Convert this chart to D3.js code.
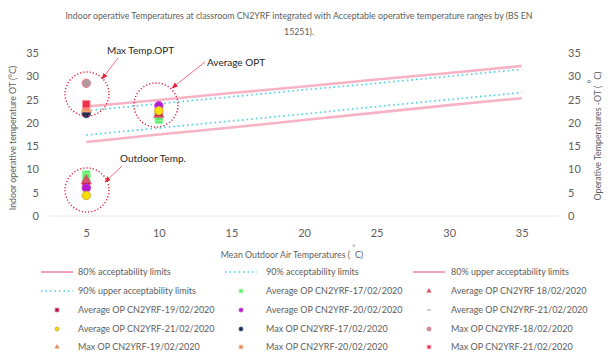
<!DOCTYPE html>
<html>
<head>
<meta charset="utf-8">
<script src="https://cdn.jsdelivr.net/npm/d3@7/dist/d3.min.js"></script>
<style>
  html, body { margin: 0; padding: 0; background: #fff; }
  svg { display: block; font-family: Lato, "Liberation Sans", sans-serif; }
</style>
</head>
<body>
<svg id="chart" width="614" height="354"></svg>
<script>
// Mean outdoor air temperature categories (°C)
const xCats = [5, 10, 15, 20, 25, 30, 35];
const yTicks = [0, 5, 10, 15, 20, 25, 30, 35];

// Acceptability limit lines at each category
const lower80 = [15.9, 17.5, 19.0, 20.6, 22.2, 23.8, 25.3];
const lower90 = [17.4, 18.9, 20.4, 21.9, 23.5, 25.0, 26.5];
const upper80 = [23.5, 24.9, 26.4, 27.8, 29.3, 30.7, 32.2];
const upper90 = [22.6, 24.1, 25.6, 27.1, 28.5, 30.0, 31.5];

// Measured points [x, y] per day
const avg1702 = [[10, 20.7], [10, 21.3], [5, 8.9], [5, 8.3]];
const avg1802 = [[10, 21.8], [5, 7.6]];
const avg1902 = [[10, 22.2], [5, 6.4]];
const avg2002 = [[10, 23.7], [5, 6.0]];
const avg2102a = [];
const avg2102b = [[10, 22.6], [5, 4.4]];
const max1702 = [[5, 22.0]];
const max1802 = [[5, 28.5]];
const max1902 = [[5, 22.9]];
const max2002 = [[5, 23.3]];
const max2102 = [[5, 24.0]];

const svg = d3.select("#chart");
const plotLeft = 50, plotRight = 558, plotTop = 53, plotBottom = 216;

const x = d3.scaleLinear().domain([2.5, 37.5]).range([plotLeft, plotRight]);
const y = d3.scaleLinear().domain([0, 35]).range([plotBottom, plotTop]);

const grey = "#5e5e5e";
const pink = "#f5a0b4";
const cyan = "#45cfe0";

// Title
const title = svg.append("text").attr("x", 299).attr("y", 19)
  .attr("text-anchor", "middle").attr("font-size", 8.8).attr("fill", grey);
title.append("tspan").attr("x", 299).text("Indoor operative Temperatures at classroom CN2YRF integrated with Acceptable operative temperature ranges by (BS EN");
title.append("tspan").attr("x", 299).attr("dy", 16).text("15251).");

// Baseline
svg.append("line").attr("x1", plotLeft).attr("x2", plotRight)
  .attr("y1", y(0)).attr("y2", y(0)).attr("stroke", "#e6e6e6").attr("stroke-width", 1);

// Axes (labels only)
const axL = d3.axisLeft(y).tickValues(yTicks).tickSize(0).tickPadding(0);
const gL = svg.append("g").attr("transform", `translate(${plotLeft - 11},0)`).call(axL);
const axR = d3.axisRight(y).tickValues(yTicks).tickSize(0).tickPadding(0);
const gR = svg.append("g").attr("transform", `translate(${plotRight + 10},0)`).call(axR);
const axB = d3.axisBottom(x).tickValues(xCats).tickSize(0).tickPadding(0);
const gB = svg.append("g").attr("transform", `translate(0,${plotBottom + 13})`).call(axB);
[gL, gR, gB].forEach(g => {
  g.select(".domain").remove();
  g.selectAll("text").attr("fill", grey).attr("font-size", 11)
    .attr("font-family", "Lato, 'Liberation Sans', sans-serif");
});

// Axis titles
svg.append("text").attr("transform", "translate(16,138) rotate(-90)")
  .attr("text-anchor", "middle").attr("font-size", 8.8).attr("fill", grey)
  .text("Indoor operative temperature OT (°C)");
const rt = svg.append("text").attr("transform", "translate(601,136) rotate(-90)")
  .attr("text-anchor", "middle").attr("font-size", 8.8).attr("fill", grey);
rt.append("tspan").text("Operative Temperatures -OT ( ");
rt.append("tspan").attr("dy", -6).text("°");
rt.append("tspan").attr("dy", 6).text("C)");
const xt = svg.append("text").attr("x", 292).attr("y", 258)
  .attr("text-anchor", "middle").attr("font-size", 8.8).attr("fill", grey);
xt.append("tspan").text("Mean Outdoor Air Temperatures ( ");
xt.append("tspan").attr("dy", -9).attr("font-size", 6).text("°");
xt.append("tspan").attr("dy", 9).text("C)");

// Limit lines
const lineGen = d3.line().x((d, i) => x(xCats[i])).y(d => y(d));
const limits = [
  { data: lower80, color: pink, width: 2.6, dash: null },
  { data: upper80, color: pink, width: 2.6, dash: null },
  { data: lower90, color: cyan, width: 1.8, dash: "1.6,3" },
  { data: upper90, color: cyan, width: 1.8, dash: "1.6,3" }
];
limits.forEach(l => {
  svg.append("path").datum(l.data).attr("d", lineGen)
    .attr("fill", "none").attr("stroke", l.color).attr("stroke-width", l.width)
    .attr("stroke-opacity", l.dash ? 0.9 : 0.8)
    .attr("stroke-dasharray", l.dash);
});

// Marker drawing
function marker(g, shape, size, fill, stroke) {
  if (shape === "dash") {
    g.append("line").attr("x1", -2).attr("x2", 2).attr("stroke", fill).attr("stroke-width", 1);
    return;
  }
  let sym;
  if (shape === "square") sym = d3.symbolSquare;
  else if (shape === "triangle") sym = d3.symbolTriangle;
  else sym = d3.symbolCircle;
  g.append("path").attr("d", d3.symbol().type(sym).size(size)())
    .attr("fill", fill).attr("stroke", stroke || "none").attr("stroke-width", 1);
}

const pointSeries = [
  { name: "Average OP CN2YRF-17/02/2020", data: avg1702, shape: "square", fill: "#5cef6a", stroke: "#8ff59a" },
  { name: "Average OP CN2YRF 18/02/2020", data: avg1802, shape: "triangle", fill: "#d9536a", stroke: null },
  { name: "Average OP CN2YRF-19/02/2020", data: avg1902, shape: "square", fill: "#b0103a", stroke: "#e05070" },
  { name: "Average OP CN2YRF-20/02/2020", data: avg2002, shape: "circle", fill: "#b01cd0", stroke: "#d040e0" },
  { name: "Average OP CN2YRF-21/02/2020", data: avg2102a, shape: "dash", fill: "#a0a0a0", stroke: null },
  { name: "Average OP CN2YRF-21/02/2020", data: avg2102b, shape: "circle", fill: "#f5e000", stroke: "#d8b030" },
  { name: "Max OP CN2YRF-17/02/2020", data: max1702, shape: "circle", fill: "#1f2d5a", stroke: "#3a4a7a" },
  { name: "Max OP CN2YRF-18/02/2020", data: max1802, shape: "circle", fill: "#b09aa0", stroke: "#e57a90" },
  { name: "Max OP CN2YRF-19/02/2020", data: max1902, shape: "triangle", fill: "#e8905a", stroke: null },
  { name: "Max OP CN2YRF-20/02/2020", data: max2002, shape: "square", fill: "#f08a60", stroke: "#f5b090" },
  { name: "Max OP CN2YRF-21/02/2020", data: max2102, shape: "square", fill: "#f0304a", stroke: "#f590a0" }
];

pointSeries.forEach(s => {
  s.data.forEach(p => {
    const g = svg.append("g").attr("transform", `translate(${x(p[0])},${y(p[1])})`);
    marker(g, s.shape, 55, s.fill, s.stroke);
  });
});

// Annotation circles, labels and arrows
const annRed = "#e8203a";
const defs = svg.append("defs");
defs.append("marker").attr("id", "arr").attr("viewBox", "0 0 10 10")
  .attr("refX", 9).attr("refY", 5).attr("markerWidth", 7).attr("markerHeight", 7)
  .attr("orient", "auto")
  .append("path").attr("d", "M0,1 L10,5 L0,9 Z").attr("fill", annRed);

const rings = [
  { cx: 87, cy: 94, r: 22 },
  { cx: 156, cy: 105, r: 22 },
  { cx: 87, cy: 190, r: 22 }
];
rings.forEach(c => {
  svg.append("circle").attr("cx", c.cx).attr("cy", c.cy).attr("r", c.r)
    .attr("fill", "none").attr("stroke", annRed).attr("stroke-width", 1.4)
    .attr("stroke-dasharray", "1.2,2");
});

const notes = [
  { text: "Max Temp.OPT", tx: 107, ty: 54, x1: 118, y1: 58, x2: 102, y2: 79 },
  { text: "Average OPT", tx: 207, ty: 66, x1: 205, y1: 62, x2: 172, y2: 88 },
  { text: "Outdoor Temp.", tx: 120, ty: 162, x1: 122, y1: 166, x2: 105, y2: 182 }
];
notes.forEach(n => {
  svg.append("line").attr("x1", n.x1).attr("y1", n.y1).attr("x2", n.x2).attr("y2", n.y2)
    .attr("stroke", "#f06070").attr("stroke-width", 0.9).attr("marker-end", "url(#arr)");
  svg.append("text").attr("x", n.tx).attr("y", n.ty).attr("font-size", 10)
    .attr("fill", "#262626").text(n.text);
});

// Legend
const colMark = [57, 241, 429];
const colText = [78, 266, 451];
const rowY = [272, 291, 310, 329, 347];
const legendItems = [
  { name: "80% acceptability limits", line: { color: pink, width: 2, dash: null } },
  { name: "90% acceptability limits", line: { color: cyan, width: 1.5, dash: "1.5,3" } },
  { name: "80% upper acceptability limits", line: { color: pink, width: 2, dash: null } },
  { name: "90% upper acceptability limits", line: { color: cyan, width: 1.5, dash: "1.5,3" } }
].concat(pointSeries);

legendItems.forEach((it, i) => {
  const col = i % 3, row = Math.floor(i / 3);
  const cy = rowY[row];
  if (it.line) {
    svg.append("line").attr("x1", colMark[col] - 16).attr("x2", colMark[col] + 16)
      .attr("y1", cy).attr("y2", cy)
      .attr("stroke", it.line.color).attr("stroke-width", it.line.width)
      .attr("stroke-dasharray", it.line.dash);
  } else {
    const g = svg.append("g").attr("transform", `translate(${colMark[col]},${cy})`);
    marker(g, it.shape, 12, it.fill, it.stroke);
  }
  svg.append("text").attr("x", colText[col]).attr("y", cy + 3)
    .attr("font-size", 9).attr("fill", grey).text(it.name);
});
</script>
</body>
</html>
